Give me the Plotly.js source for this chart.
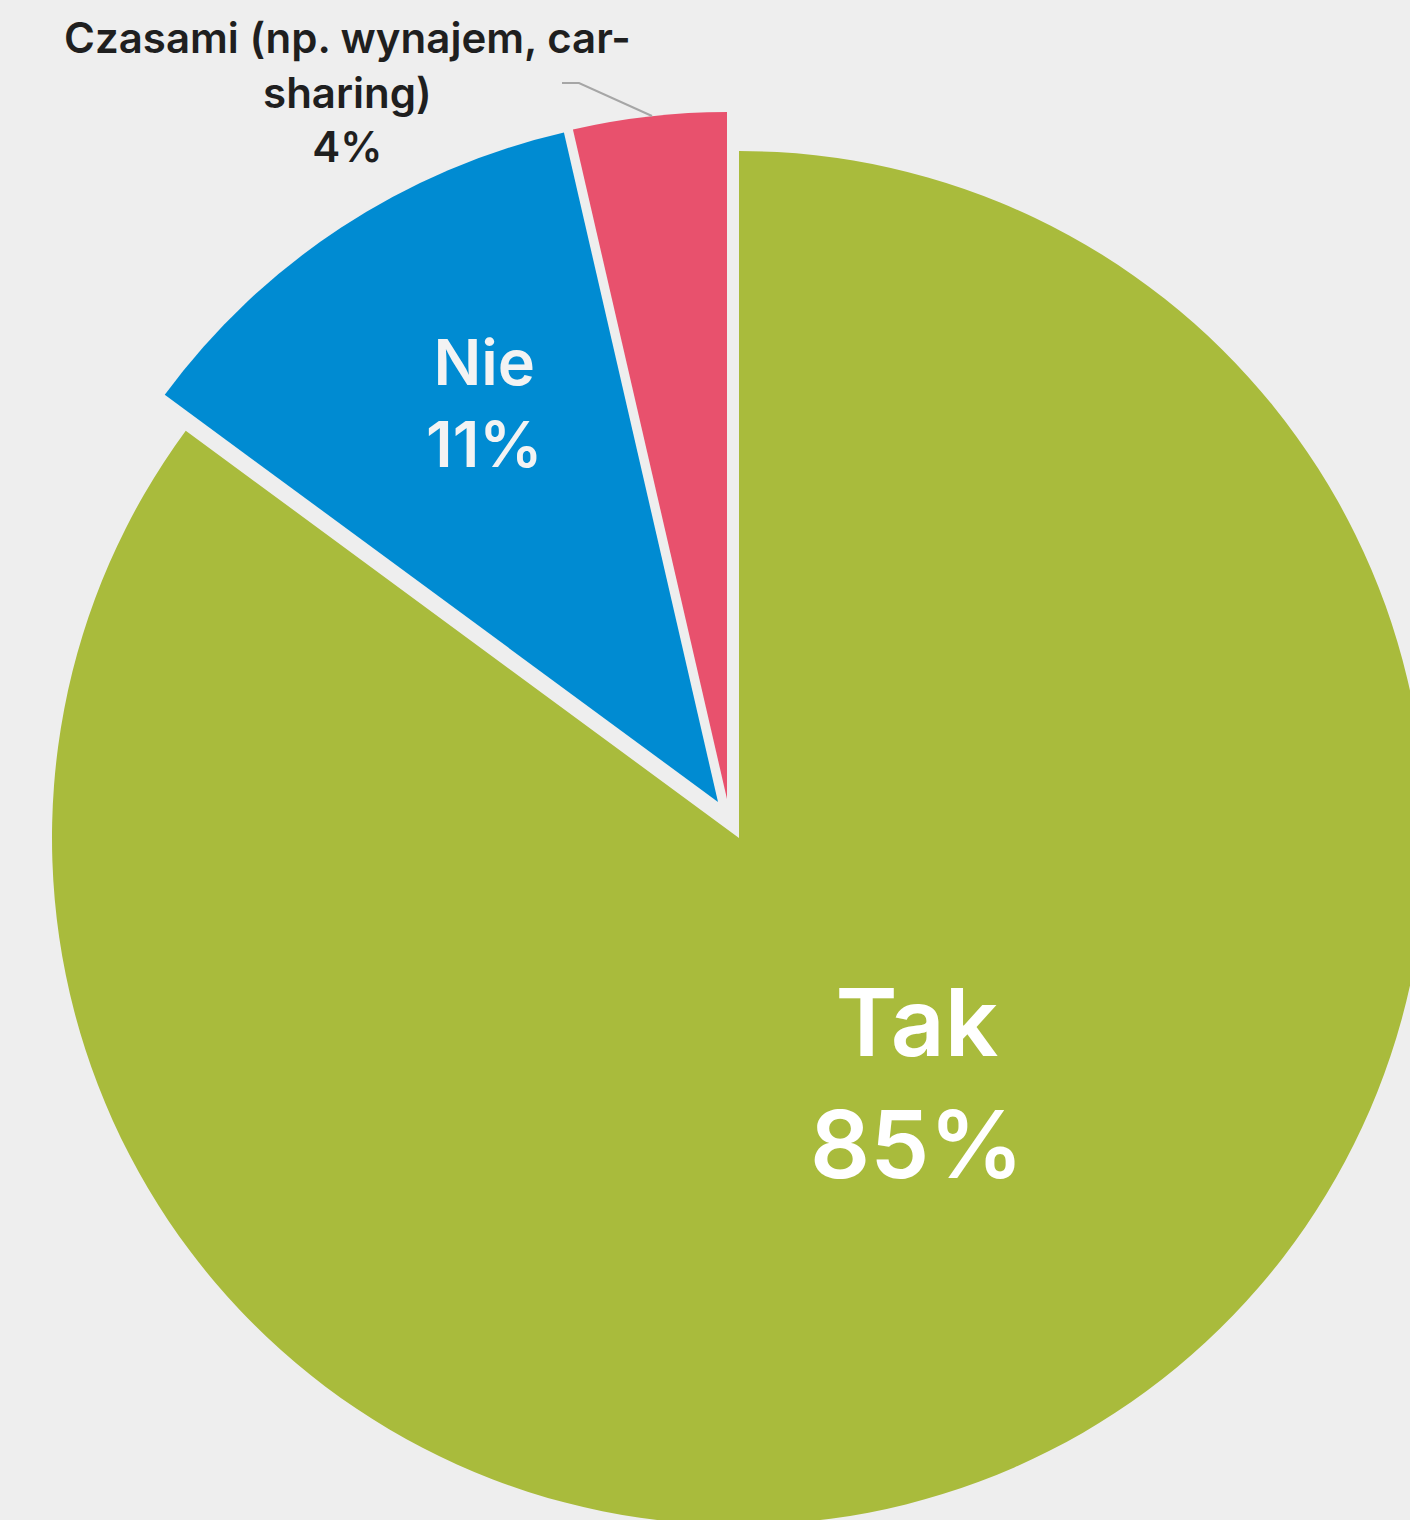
<!DOCTYPE html>
<html>
<head>
<meta charset="utf-8">
<script src="https://cdn.plot.ly/plotly-3.0.1.min.js"></script>
<style>
html, body { margin: 0; padding: 0; background: #eeeeee; overflow: hidden; }
#chart { width: 1440px; height: 1540px; }
</style>
</head>
<body>
<div id="chart"></div>
<script>
// ---- data ----
const labels = ['Tak', 'Nie', 'Czasami (np. wynajem, car-sharing)'];
const values = [85.1, 11.3, 3.6];
const colors = ['#a9bb3c', '#008bd2', '#e8516d'];

// ---- layout helpers (pixel geometry of the page) ----
const W = 1440, H = 1540, R = 687;
// each slice is drawn by its own pie trace so it can be displaced freely
const centers = [[739, 838], [718, 802], [727, 799]];

const total = values.reduce((a, b) => a + b, 0);
const pctText = values.map(v => Math.round(v / total * 100) + '%');

const traces = labels.map((lab, i) => ({
  type: 'pie',
  labels: labels,
  values: values,
  sort: false,
  direction: 'clockwise',
  rotation: 0,
  textinfo: 'none',
  hoverinfo: 'label+percent',
  showlegend: false,
  marker: {
    colors: colors.map((c, j) => j === i ? c : 'rgba(0,0,0,0)'),
    line: { width: 0 }
  },
  domain: {
    x: [(centers[i][0] - R) / W, (centers[i][0] + R) / W],
    y: [(H - centers[i][1] - R) / H, (H - centers[i][1] + R) / H]
  }
}));

const px = x => x / W;
const py = y => 1 - y / H;
const FONT = 'Inter, "Open Sans", sans-serif';

const annotations = [
  { text: labels[0] + '<br>' + pctText[0], x: px(917), y: py(1083), size: 94, color: '#ffffff' },
  { text: labels[1] + '<br>' + pctText[1], x: px(484), y: py(403), size: 63, color: '#f3f3f3' },
  { text: labels[2].replace('car-', 'car-<br>') + '<br>' + pctText[2], x: px(347), y: py(92), size: 42, color: '#1f1f1f' }
].map(a => ({
  text: a.text, x: a.x, y: a.y, xref: 'paper', yref: 'paper',
  xanchor: 'center', yanchor: 'middle', showarrow: false, align: 'center',
  font: { family: FONT, size: a.size, color: a.color, weight: 600 }
}));

const layout = {
  width: W, height: H,
  margin: { l: 0, r: 0, t: 0, b: 0, pad: 0 },
  paper_bgcolor: '#eeeeee',
  plot_bgcolor: '#eeeeee',
  showlegend: false,
  annotations: annotations,
  shapes: [{
    type: 'path', xref: 'paper', yref: 'paper',
    path: 'M ' + px(562) + ' ' + py(83) + ' L ' + px(579) + ' ' + py(83) + ' L ' + px(652) + ' ' + py(116),
    line: { color: '#a6a6a6', width: 2 }
  }]
};

Plotly.newPlot('chart', traces, layout, { displayModeBar: false, staticPlot: true });
</script>
</body>
</html>
